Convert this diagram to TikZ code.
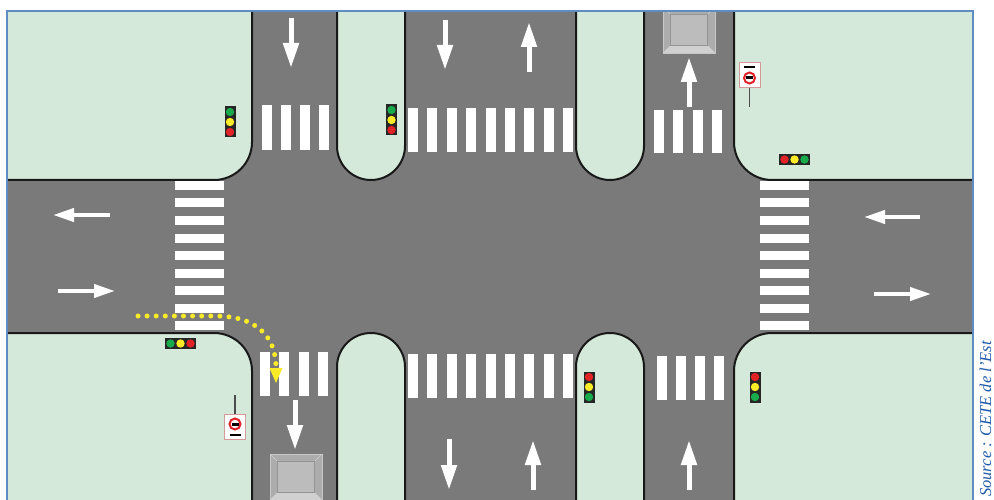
\documentclass[tikz,border=0pt]{standalone}
\usepackage{fontspec}
\usepackage{xcolor}
\usepackage{tikz}
\usetikzlibrary{positioning,arrows.meta}
\setmainfont{Liberation Serif}
\definecolor{roadgray}{RGB}{122,122,122}
\definecolor{islandgreen}{RGB}{212,233,217}
\definecolor{framblue}{RGB}{96,140,196}
\definecolor{sourceblue}{RGB}{30,90,170}
\definecolor{bumpgray}{RGB}{172,172,172}
\definecolor{bumptop}{RGB}{188,188,188}
\definecolor{lampred}{RGB}{225,35,40}
\definecolor{lampyellow}{RGB}{250,235,40}
\definecolor{lampgreen}{RGB}{25,170,75}
\tikzset{
  island/.style={draw=black!90,line width=2pt,fill=islandgreen},
  bar/.style={fill=white},
  lane/.style={draw=white,line width=5pt,-{Triangle[width=15pt,length=25pt,fill=white]}},
  lanewide/.style={draw=white,line width=4pt,-{Triangle[width=13pt,length=21pt,fill=white]}},
  signbox/.style={draw=black!40!red!40!white,line width=1pt,fill=white,minimum width=21pt,minimum height=25pt,inner sep=0pt},
  trafficlight/.pic={
    \fill[black!85] (-15.5,-5.5) rectangle (15.5,5.5);
    \foreach \lx/\lc in {-10/lampred,0/lampyellow,10/lampgreen}
      \fill[\lc] (\lx,0) circle (4.2);
  },
  bump/.pic={
    \fill[bumpgray] (-26,-23) rectangle (26,23);
    \fill[bumptop!70!white] (-26,23) -- (26,23) -- (18.5,15.5) -- (-18.5,15.5) -- cycle;
    \draw[black!22,line width=0.8pt] (-26,-23) rectangle (26,23);
    \draw[black!20,line width=0.6pt] (-26,-23) -- (-18.5,-15.5) (26,-23) -- (18.5,-15.5) (-26,23) -- (-18.5,15.5) (26,23) -- (18.5,15.5);
    \fill[bumptop] (-18.5,-15.5) rectangle (18.5,15.5);
    \draw[black!42,line width=0.6pt] (-18.5,-15.5) rectangle (18.5,15.5);
  },
  nocar/.pic={
    \fill[white] (0,0) circle (6);
    \draw[lampred,line width=2pt] (0,0) circle (5.5);
    \fill[black] (-3.5,-1.5) rectangle (3.5,1.5);
  }
}
\begin{document}
\begin{tikzpicture}[x=1pt,y=-1pt,>=Latex]
  \useasboundingbox (0,0) rectangle (994,500);
  \fill[white] (0,0) rectangle (994,500);
  \begin{scope}
    \clip (7,11) rectangle (973,500);
    \fill[roadgray] (7,11) rectangle (973,500);
    \foreach \xa/\ya/\xb/\yb/\rad in {-60/-60/252/180/38,734/-60/1040/180/38,-60/333/252/560/38,734/333/1040/560/38,337/-60/405/180/34,576/-60/644/180/34,337/333/405/560/34,576/333/644/560/34}
      \draw[island,rounded corners=\rad pt] (\xa,\ya) rectangle (\xb,\yb);
    \pic at (689,30) {bump};
    \pic at (296,477) {bump};
  \end{scope}
  \foreach \x in {262,281,300,319} \fill[bar] (\x,105) rectangle +(10,45);
  \foreach \x in {654,673,693,712} \fill[bar] (\x,110) rectangle +(10,43);
  \foreach \x in {260,279,299,318} \fill[bar] (\x,352) rectangle +(10,44);
  \foreach \x in {657,676,695,714} \fill[bar] (\x,356) rectangle +(10,44);
  \foreach \i in {0,...,8}{
    \fill[bar] (408+19.4*\i,108) rectangle +(10,44);
    \fill[bar] (408+19.4*\i,354) rectangle +(10,44);
    \fill[bar] (175,181+17.5*\i) rectangle +(49,9);
    \fill[bar] (760,181+17.5*\i) rectangle +(49,9);
  }
  \foreach \x/\ya/\yb in {291/18/68,445/20/70,529/72/22,689/107/57,295/400/450,449/439/490,533/490/440,689/490/440}
    \draw[lane] (\x,\ya) -- (\x,\yb);
  \foreach \y/\xa/\xb in {215/110/53,291/58/115,217/920/864,294/874/931}
    \draw[lanewide] (\xa,\y) -- (\xb,\y);
  \pic[rotate=90] at (230,122) {trafficlight};
  \pic[rotate=90] at (391.5,120) {trafficlight};
  \pic at (794.5,159.5) {trafficlight};
  \pic[rotate=180] at (180.5,343.5) {trafficlight};
  \pic[rotate=-90] at (589,387) {trafficlight};
  \pic[rotate=-90] at (755,387) {trafficlight};
  \node[signbox] (signtop) at (749.5,75.5) {};
  \coordinate (poletop) at (749.5,107);
  \draw[black!70,line width=1.5pt] (signtop) -- (poletop);
  \node[signbox] (signbottom) at (235,427) {};
  \coordinate (polebottom) at (235,395);
  \draw[black!70,line width=1.5pt] (signbottom) -- (polebottom);
  \pic at (749.5,78) {nocar};
  \pic at (235,424) {nocar};
  \fill[black] (744,66) rectangle +(11,2);
  \fill[black] (229.5,434) rectangle +(11,2);
  \draw[lampyellow,line width=5pt,line cap=round,dash pattern=on 0pt off 9.1pt] (138,316) -- (215,316) .. controls (255,316) and (276,335) .. (276,368);
  \fill[lampyellow] (269.5,368) -- (282.5,368) -- (276,383) -- cycle;
  \draw[framblue,line width=1.5pt] (7,500) -- (7,11) -- (973,11) -- (973,500);
  \node[rotate=90,anchor=west,text=sourceblue,font=\itshape\fontsize{16.5}{16.5}\selectfont,inner sep=0pt] (source) at (985.5,497) {Source : CETE de l'Est};
\end{tikzpicture}
\end{document}
